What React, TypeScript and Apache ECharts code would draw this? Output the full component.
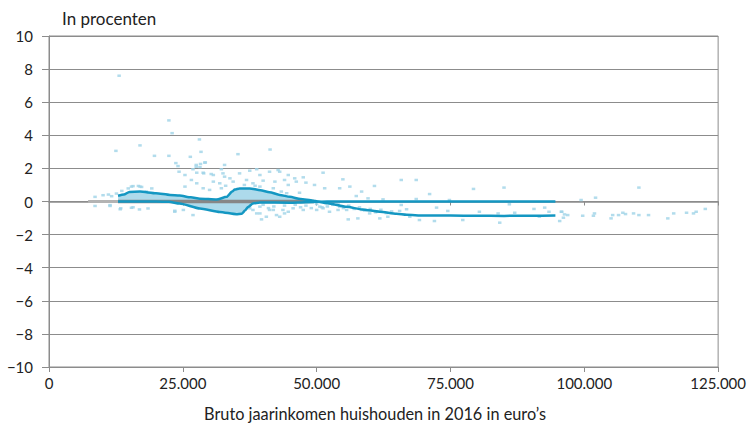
import React, { useEffect, useRef } from "react";
import * as echarts from "echarts";

// x in thousands of euros, y in percent
const yTickValues = [-10, -8, -6, -4, -2, 0, 2, 4, 6, 8, 10];
const xTickValues = [0, 25, 50, 75, 100, 125];

const upperLine: [number, number][] = [
  [12.9, 0.35], [14, 0.42], [15, 0.58], [17, 0.6], [20, 0.5], [22.6, 0.4], [24.4, 0.36],
  [26.5, 0.25], [28.2, 0.17], [31.3, 0.12], [33.2, 0.28], [34.2, 0.6], [34.7, 0.72],
  [35.6, 0.79], [37.5, 0.79], [39.5, 0.68], [41.2, 0.56], [43.1, 0.4], [45, 0.28],
  [47, 0.15], [49.3, 0.05], [52, -0.1], [55.6, -0.32], [58.5, -0.48], [61.8, -0.62],
  [64.9, -0.74], [66.8, -0.8], [70, -0.85], [75, -0.85], [80, -0.86], [85, -0.87],
  [90, -0.86], [94.6, -0.85],
];

const lowerLine: [number, number][] = [
  [12.9, 0], [20, 0], [22.4, -0.02], [24.4, -0.12], [28.2, -0.42], [31.9, -0.63],
  [35, -0.77], [36, -0.74], [36.6, -0.55], [37.2, -0.33], [38.1, -0.12], [39.4, -0.06],
  [45, -0.07], [48, -0.04], [52, 0], [94.6, 0],
];

const grayBand: [number, number][] = [[12.9, 0], [49.5, 0]];
const leftGray: [number, number][] = [[7.3, 0], [12.9, 0]];

const outliers: [number, number][] = [
  [13.1, 7.6], [22.4, 4.9], [23.0, 4.13], [28.1, 3.75], [12.5, 3.06], [17, 3.39],
  [19.7, 2.76], [22.4, 2.76], [26.4, 2.7], [28.4, 3.0], [35.3, 2.86], [41.3, 3.14],
  [23.7, 2.32], [24.1, 2.14], [29.2, 2.36], [27.5, 2.21], [27.5, 2.1], [28.2, 2.08],
  [32.8, 2.21], [32.2, 1.95], [38.8, 1.95], [26.9, 1.95], [29.1, 2.35], [28.3, 2.27],
];

const cloudAbove: [number, number][] = [
  [8.6, 0.28], [10.1, 0.38], [11.1, 0.42], [11.7, 0.32], [12.6, 0.48], [13.6, 0.64],
  [14.8, 0.79], [15.7, 0.93], [16.7, 0.94], [17.3, 0.88], [19.2, 0.79], [15.4, 0.9],
  [17, 0.9], [18.2, 0.6], [24.3, 1.8], [27.6, 1.74], [28.9, 1.7], [30.7, 1.6], [32.5, 1.7],
  [43.1, 1.8], [25.4, 1.6], [28.8, 1.74], [30.3, 1.66], [32.8, 1.5], [35.6, 1.7],
  [37.5, 1.86], [39.4, 1.6], [41.2, 1.8], [42.8, 1.9], [26.6, 1.3], [27.6, 1.1],
  [30.7, 1.2], [31.9, 1.1], [33.8, 1.4], [34.4, 1.2], [36.9, 1.3], [38.1, 1.1],
  [40, 1.26], [42.2, 1.2], [44, 1.3], [44.7, 1.0], [25.4, 0.9], [28.8, 0.8], [30, 0.7],
  [32.2, 0.8], [39.4, 0.9], [41.9, 0.8], [43.4, 0.6], [51.2, 1.74], [44.7, 1.6],
  [45.9, 1.4], [47.5, 1.46], [48, 1.14], [46.2, 1.2], [49.6, 1.0], [51.5, 0.8],
  [54.9, 1.34], [56.2, 0.9], [60.8, 0.94], [65.8, 1.3], [54.3, 0.8], [58.4, 0.6],
  [57.4, 0.33], [59.6, 0.19], [62.4, 0.13], [46.8, 0.53], [44.4, 0.5], [68.6, 1.3],
  [71.1, 0.45], [68.6, 0.15], [79.3, 0.76], [85, 0.84], [74.8, 0.09], [110.2, 0.84],
  [102.1, 0.23], [99.4, 0.09], [36.5, 1.0], [38.5, 0.95], [33, 0.95],
];

const cloudBelow: [number, number][] = [
  [11.4, -0.22], [13.3, -0.47], [15.4, -0.38], [16.9, -0.48], [18.5, -0.42], [8.6, -0.27],
  [11.4, -0.27], [13.4, -0.41], [15.7, -0.35], [23.5, -0.56], [23.5, -0.62], [25.1, -0.51],
  [26.9, -0.82], [38.1, -0.51], [39.4, -0.72], [41.2, -0.51], [42.5, -0.82], [44.7, -0.62],
  [40.6, -0.92], [37.5, -0.41], [39.4, -0.31], [39.7, -1.08], [41.9, -0.51], [43.1, -0.92],
  [38.8, -0.72], [43.7, -0.51], [44, -0.72], [45.6, -0.41], [47.5, -0.51], [50, -0.51],
  [52.4, -0.62], [54, -0.51], [55.9, -1.08], [57.7, -1.02], [59.9, -0.72], [61.8, -1.02],
  [63.3, -0.92], [55.6, -0.51], [51.2, -0.41], [54.3, -0.31], [50.6, -0.31], [58.4, -0.51],
  [46, -0.2], [48, -0.25], [50, -0.15], [52, -0.3], [53, -0.2], [55, -0.4], [56, -0.25],
  [57, -0.45], [58, -0.35], [59, -0.55], [60, -0.45], [61, -0.65], [62, -0.5], [63, -0.7],
  [64, -0.6], [47, -0.35], [49, -0.4], [51, -0.35], [54, -0.15], [44, -0.25], [42, -0.3],
  [40, -0.2], [41, -0.4],
];

const rightTail: [number, number][] = [
  [65.8, -0.21], [66.8, -0.47], [72.4, -0.37], [74.5, -0.57], [80.4, -0.62], [83.9, -0.72],
  [87, -0.68], [90.6, -0.45], [92.6, -0.37], [93.4, -0.62], [95.8, -0.62], [96.9, -0.82],
  [86, -0.17], [69.2, -1.12], [72, -1.18], [77.3, -1.12], [84.2, -1.28], [91.6, -0.92],
  [95.4, -1.18], [67.4, -0.92], [65.5, -0.57], [95.7, -0.62], [96.3, -0.78], [96.1, -0.98],
  [99.7, -0.86], [101.9, -0.72], [101.7, -0.86], [105, -1.02], [105.3, -0.82],
  [106.4, -0.82], [107.2, -0.68], [107.7, -0.76], [109.2, -0.72], [110.2, -0.82],
  [112, -0.82], [115.6, -1.02], [116.7, -0.72], [119.1, -0.68], [120.4, -0.72],
  [120.9, -0.62], [122.6, -0.45],
];

const FONT = "Lato, 'Open Sans', sans-serif";
const GRID = "#8c8c8c";
const LINE = "#1497c2";
const DOT = "#9fd3e7";

export default function App() {
  const ref = useRef<HTMLDivElement>(null);
  useEffect(() => {
    if (!ref.current) return;
    const chart = echarts.init(ref.current, null, { renderer: "svg" });
    const fmtY = (v: number) => (v < 0 ? "\u2212" + Math.abs(v) : String(v));
    const fmtX = (v: number) => (v === 0 ? "0" : `${v}.000`);
    const dotSeries = (data: [number, number][]) => ({
      type: "scatter",
      data,
      symbol: "rect",
      symbolSize: [3.5, 2.5],
      itemStyle: { color: DOT },
      z: 3,
    });
    chart.setOption({
      animation: false,
      grid: {
        left: 49, right: 30, top: 36, bottom: 56,
        show: true, borderColor: GRID, borderWidth: 1,
      },
      xAxis: [
        {
          type: "value", min: 0, max: 125, interval: 25, position: "bottom",
          axisLine: { show: true, onZero: false, lineStyle: { color: GRID, width: 1 } },
          axisTick: { show: true, length: 5, lineStyle: { color: GRID } },
          axisLabel: { formatter: fmtX, color: "#222", fontFamily: FONT, fontSize: 15, margin: 8,
            customValues: xTickValues },
          splitLine: { show: false },
        },
        {
          type: "value", min: 0, max: 125, interval: 25, position: "bottom",
          axisLine: { show: true, onZero: true, lineStyle: { color: GRID, width: 1.5 } },
          axisTick: { show: true, length: 4, lineStyle: { color: GRID } },
          axisLabel: { show: false },
          splitLine: { show: false },
        },
      ],
      yAxis: {
        type: "value", min: -10, max: 10, interval: 2,
        axisLine: { show: true, lineStyle: { color: GRID } },
        axisTick: { show: true, length: 7, lineStyle: { color: GRID } },
        axisLabel: { formatter: fmtY, color: "#222", fontFamily: FONT, fontSize: 15, margin: 16,
          customValues: yTickValues },
        splitLine: { show: true, lineStyle: { color: GRID, width: 1 } },
      },
      graphic: [
        { type: "text", left: 62, top: 10, style: { text: "In procenten", fill: "#222",
          font: `17px ${FONT}` } },
        { type: "text", x: 375, y: 413, style: { text: "Bruto jaarinkomen huishouden in 2016 in euro\u2019s",
          fill: "#222", font: `16.3px ${FONT}`, align: "center", verticalAlign: "middle" } },
      ],
      series: [
        {
          type: "line", data: upperLine.filter((p) => p[0] <= 49.3), showSymbol: false,
          smooth: 0.2, smoothMonotone: "x",
          lineStyle: { width: 0 }, areaStyle: { color: DOT, opacity: 0.85 }, z: 2,
        },
        {
          type: "line", data: lowerLine.filter((p) => p[0] >= 20 && p[0] <= 39.4), showSymbol: false,
          smooth: 0.2, smoothMonotone: "x",
          lineStyle: { width: 0 }, areaStyle: { color: DOT, opacity: 0.85 }, z: 2,
        },
        dotSeries(outliers),
        dotSeries(cloudAbove),
        dotSeries(cloudBelow),
        dotSeries(rightTail),
        {
          type: "line", data: leftGray, showSymbol: false,
          lineStyle: { width: 3, color: "#b3b3b3" }, z: 4,
        },
        {
          type: "line", data: grayBand, showSymbol: false,
          lineStyle: { width: 3.5, color: "#878787" }, z: 4,
        },
        {
          type: "line", data: upperLine, showSymbol: false, smooth: 0.2, smoothMonotone: "x",
          lineStyle: { width: 2.5, color: LINE }, z: 5,
        },
        {
          type: "line", data: lowerLine, showSymbol: false, smooth: 0.2, smoothMonotone: "x",
          lineStyle: { width: 2.5, color: LINE }, z: 5,
        },
      ],
    });
    return () => chart.dispose();
  }, []);
  return (
    <div
      ref={ref}
      style={{ position: "fixed", left: 0, top: 0, width: 749, height: 423, background: "#fff" }}
    />
  );
}
